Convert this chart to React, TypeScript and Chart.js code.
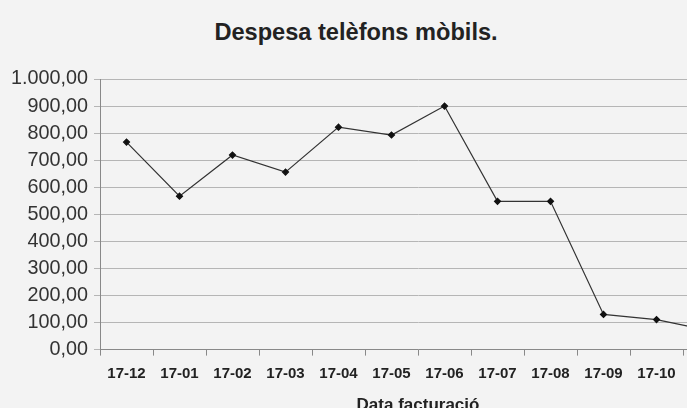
import React, { useEffect, useRef } from "react";
import { Chart, registerables } from "chart.js";

Chart.register(...registerables);

const categories = ["17-12", "17-01", "17-02", "17-03", "17-04", "17-05", "17-06", "17-07", "17-08", "17-09", "17-10", "17-11"];
const despesa = [767, 567, 719, 656, 822, 793, 900, 548, 548, 130, 111, 70];
const yTicks = [0, 100, 200, 300, 400, 500, 600, 700, 800, 900, 1000];

const titleText = "Despesa telèfons mòbils.";
const xTitle = "Data facturació";
const FONT = "'Liberation Sans', Arial, sans-serif";

function fmt(v: number): string {
  const fixed = Math.abs(v).toFixed(2);
  const [intPart, dec] = fixed.split(".");
  const withDots = intPart.replace(/\B(?=(\d{3})+(?!\d))/g, ".");
  return (v < 0 ? "-" : "") + withDots + "," + dec;
}

export default function App() {
  const ref = useRef<HTMLCanvasElement | null>(null);

  useEffect(() => {
    if (!ref.current) return;
    const chart = new Chart(ref.current, {
      type: "line",
      data: {
        labels: categories,
        datasets: [
          {
            data: despesa,
            borderColor: "#333",
            borderWidth: 1.2,
            pointStyle: "rectRot",
            pointRadius: 3,
            pointBackgroundColor: "#111",
            pointBorderColor: "#111",
            tension: 0,
          },
        ],
      },
      options: {
        animation: false,
        responsive: false,
        layout: { padding: { top: 79, left: 5, right: 9, bottom: 0 } },
        plugins: { legend: { display: false }, title: { display: false }, tooltip: { enabled: false } },
        scales: {
          x: {
            offset: true,
            grid: { offset: true, drawOnChartArea: false, drawTicks: true, tickLength: 6, color: "#888" },
            border: { color: "#888", width: 1 },
            ticks: { color: "#222", font: { family: FONT, size: 15, weight: "bold" }, padding: 9, maxRotation: 0 },
            title: { display: true, text: xTitle, color: "#222", font: { family: FONT, size: 17, weight: "bold" }, padding: { top: 4 } },
          },
          y: {
            min: 0,
            max: 1000,
            afterBuildTicks: (axis: any) => {
              axis.ticks = yTicks.map((v) => ({ value: v }));
            },
            grid: { color: "#b5b5b5", tickLength: 6, drawTicks: true },
            border: { color: "#888", width: 1 },
            ticks: { color: "#333", font: { family: FONT, size: 19.8 }, padding: 6, callback: (v: any) => fmt(Number(v)) },
          },
        },
      },
    });
    return () => chart.destroy();
  }, []);

  return (
    <div style={{ position: "fixed", left: 0, top: 0, width: 687, height: 408, overflow: "hidden", background: "#f3f3f3" }}>
      <div
        style={{
          position: "absolute",
          left: 0,
          width: 712,
          top: 19,
          textAlign: "center",
          fontFamily: FONT,
          fontWeight: "bold",
          fontSize: 23.6,
          color: "#222",
        }}
      >
        {titleText}
      </div>
      <canvas ref={ref} width={745} height={420} style={{ position: "absolute", left: 0, top: 0 }} />
    </div>
  );
}
